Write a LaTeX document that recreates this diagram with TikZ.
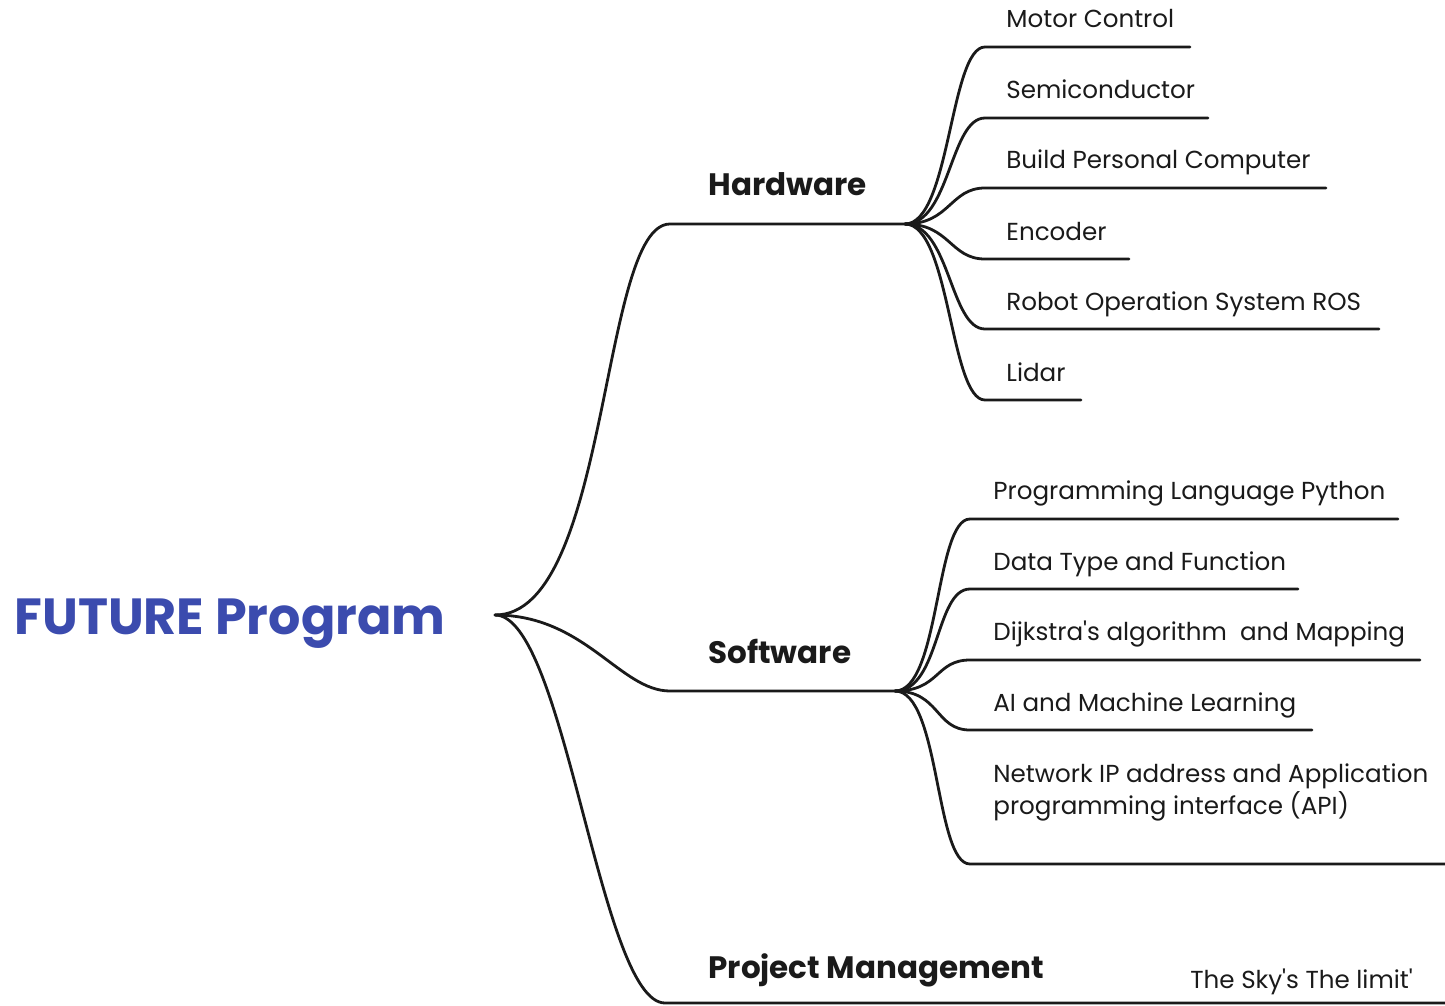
\documentclass[tikz,border=0pt]{standalone}
\usepackage{fontspec}
\setmainfont{Poppins}[Ligatures=TeXOff]
\definecolor{rootblue}{RGB}{59, 75, 174}
\definecolor{ink}{RGB}{26, 26, 26}
\usetikzlibrary{positioning}

\begin{document}
\begin{tikzpicture}[x=0.5pt, y=-0.5pt,
    branch/.style={draw=ink, line width=1.4pt, line cap=round},
    topic/.style={anchor=base west, inner sep=0pt, text=ink, font=\fontsize{15.5}{18}\selectfont\bfseries},
    leaf/.style={anchor=base west, inner sep=0pt, text=ink, font=\fontsize{12.3}{16}\selectfont}]
  \useasboundingbox (0,0) rectangle (1445,1006);

  % ===== ROOT =====
  \node[anchor=base west, inner sep=0pt, text=rootblue, font=\fontsize{25.4}{30}\selectfont\bfseries] (root) at (14,634) {FUTURE Program};
  \coordinate (rootpt) at (495,615);

  % ===== MAIN BRANCHES =====
  \coordinate (hwl) at (670,224);  \coordinate (hw) at (905,224);
  \coordinate (swl) at (670,691);  \coordinate (sw) at (895,691);
  \coordinate (pml) at (665,1003); \coordinate (pmr) at (1445,1003);
  \draw[branch] (rootpt) .. controls +(115,0) and +(-70,0) .. (hwl) -- (hw);
  \draw[branch] (rootpt) .. controls +(90,0) and +(-50,0) .. (swl) -- (sw);
  \draw[branch] (rootpt) .. controls +(70,0) and +(-65,0) .. (pml) -- (pmr);

  \node[topic] (hwtxt) at (708,195) {Hardware};
  \node[topic] (swtxt) at (708,663) {Software};
  \node[topic] (pmtxt) at (708,978) {Project Management};

  % ===== HARDWARE =====
  \coordinate (motorl) at (985,47);    \coordinate (motorr) at (1190,47);
  \coordinate (semil) at (985,118);    \coordinate (semir) at (1208,118);
  \coordinate (pcl) at (985,188);      \coordinate (pcr) at (1326,188);
  \coordinate (encl) at (985,259);     \coordinate (encr) at (1129,259);
  \coordinate (rosl) at (985,329);     \coordinate (rosr) at (1379,329);
  \coordinate (lidarl) at (985,400);   \coordinate (lidarr) at (1081,400);
  \draw[branch] (hw) .. controls +(45,0) and +(-35,0) .. (motorl) -- (motorr);
  \draw[branch] (hw) .. controls +(45,0) and +(-35,0) .. (semil) -- (semir);
  \draw[branch] (hw) .. controls +(45,0) and +(-35,0) .. (pcl) -- (pcr);
  \draw[branch] (hw) .. controls +(45,0) and +(-35,0) .. (encl) -- (encr);
  \draw[branch] (hw) .. controls +(45,0) and +(-35,0) .. (rosl) -- (rosr);
  \draw[branch] (hw) .. controls +(45,0) and +(-35,0) .. (lidarl) -- (lidarr);

  \node[leaf] (motor) at (1006,28) {Motor Control};
  \node[leaf] (semi) at (1006,99) {Semiconductor};
  \node[leaf] (pc) at (1006,169) {Build Personal Computer};
  \node[leaf] (enc) at (1006,240) {Encoder};
  \node[leaf] (ros) at (1006,310) {Robot Operation System ROS};
  \node[leaf] (lidar) at (1006,381) {Lidar};

  % ===== SOFTWARE =====
  \coordinate (pyl) at (970,519);      \coordinate (pyr) at (1398,519);
  \coordinate (dtl) at (970,589);      \coordinate (dtr) at (1298,589);
  \coordinate (dijl) at (970,660);     \coordinate (dijr) at (1420,660);
  \coordinate (ail) at (970,730);      \coordinate (air) at (1312,730);
  \coordinate (netl) at (970,864);     \coordinate (netr) at (1445,864);
  \draw[branch] (sw) .. controls +(45,0) and +(-35,0) .. (pyl) -- (pyr);
  \draw[branch] (sw) .. controls +(45,0) and +(-35,0) .. (dtl) -- (dtr);
  \draw[branch] (sw) .. controls +(45,0) and +(-35,0) .. (dijl) -- (dijr);
  \draw[branch] (sw) .. controls +(45,0) and +(-35,0) .. (ail) -- (air);
  \draw[branch] (sw) .. controls +(45,0) and +(-35,0) .. (netl) -- (netr);

  \node[leaf] (py) at (993,499) {Programming Language Python};
  \node[leaf] (dt) at (993,570) {Data Type and Function};
  \node[leaf] (dij) at (993,640) {Dijkstra's algorithm~ and Mapping};
  \node[leaf] (ai) at (993,711) {AI and Machine Learning};
  \node[leaf, anchor=north west, align=left] (net) at (993,763) {Network IP address and Application\\programming interface (API)};

  % ===== PROJECT MANAGEMENT =====
  \node[leaf] (sky) at (1190,988) {The Sky's The limit'};
\end{tikzpicture}
\end{document}
